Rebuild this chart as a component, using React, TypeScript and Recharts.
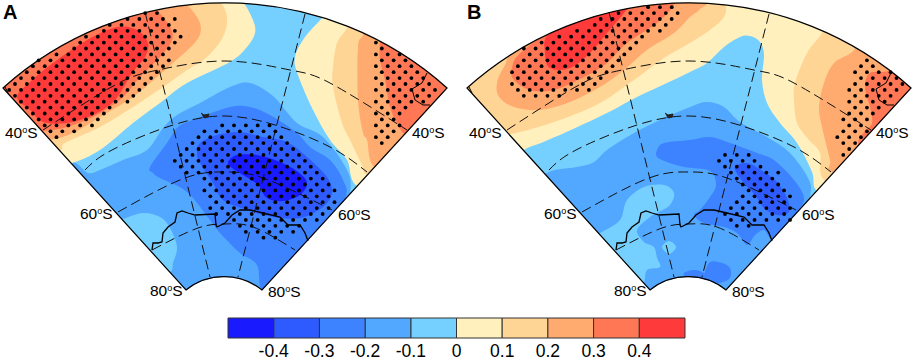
import { BarChart, Bar, XAxis, YAxis, ScatterChart, Scatter } from 'recharts';

type XY = [number, number];
type Row = [number, number, number];

// colour levels, coldest to warmest
const LEVEL_COLORS = ['#1a1aff', '#2d5bff', '#3d82ff', '#52a8ff', '#75d0ff', '#fff0bd', '#ffd595', '#ffab70', '#ff7755', '#ff3a3a'];
const SCALE_TICKS = [-0.4, -0.3, -0.2, -0.1, 0, 0.1, 0.2, 0.3, 0.4];
const SCALE_STEPS = [-0.1, -0.1, -0.1, -0.1, -0.1, 0.1, 0.1, 0.1, 0.1, 0.1];

// map outline corners, shared by both panels
const SECTOR: XY[] = [[3, 88], [447, 88], [262, 290], [186, 290]];
const OUTER_R = 332;
const INNER_R = 61;

const MERIDIANS: XY[][] = [
  [[145, 12], [210, 277]],
  [[305, 14], [238, 277]],
];
const PARALLELS: XY[][] = [
  [[43, 130], [115, 85], [158, 70], [225, 61], [290, 70], [330, 83], [407, 130]],
  [[85, 170], [112, 150], [173, 125], [225, 116], [275, 125], [330, 147], [367, 172]],
  [[118, 212], [185, 178], [225, 172], [263, 178], [332, 210]],
  [[152, 250], [198, 228], [225, 224], [253, 227], [295, 250]],
];
const COAST_SOUTH: XY[] = [[152, 250], [153, 243], [158, 243], [162, 242], [163, 233], [168, 227], [175, 222], [177, 213], [182, 211], [188, 213], [195, 215], [215, 214], [216, 225], [217, 227], [225, 223], [232, 215], [240, 210], [250, 210], [263, 213], [280, 217], [288, 225], [300, 225], [305, 233], [308, 241]];
const COAST_EAST: XY[] = [[427, 73], [422, 83], [412, 89], [415, 100], [423, 105], [430, 105]];
const COAST_WEST: XY[] = [[5, 87], [8, 93]];
const ISLAND: XY[] = [[201, 113], [204, 115], [209, 114], [208, 117], [205, 118], [203, 117]];

// panel A contours
const A_WARM0: XY[] = [[72, 163], [100, 150], [133, 123], [160, 103], [187, 83], [230, 62], [247, 47], [255, 33], [253, 20], [243, 2], [235, 0], [120, 0], [0, 0], [0, 110], [40, 170]];
const A_WARM1: XY[] = [[60, 150], [65, 143], [100, 127], [133, 107], [163, 87], [187, 70], [207, 57], [223, 37], [227, 17], [220, 2], [210, 0], [100, 0], [0, 0], [0, 100], [30, 150]];
const A_WARM2: XY[] = [[50, 140], [75, 132], [100, 117], [133, 97], [157, 77], [173, 63], [197, 40], [200, 23], [187, 5], [175, 0], [80, 0], [0, 0], [0, 90], [20, 140]];
const A_WARM3: XY[] = [[43, 131], [67, 127], [97, 115], [123, 97], [140, 77], [160, 57], [172, 40], [170, 27], [157, 10], [145, 0], [70, 0], [0, 0], [0, 85], [15, 130]];
const A_WARM4: XY[] = [[117, 27], [137, 30], [148, 43], [145, 57], [132, 73], [115, 100], [93, 115], [67, 123], [43, 122], [30, 110], [17, 97], [30, 82], [53, 63], [87, 40]];
const A_EAST0: XY[] = [[357, 186], [347, 160], [330, 140], [313, 110], [298, 75], [295, 57], [305, 37], [322, 18], [335, 0], [450, 0], [450, 100], [450, 190], [400, 200]];
const A_EAST1: XY[] = [[368, 175], [363, 167], [350, 140], [342, 123], [333, 87], [333, 67], [337, 43], [347, 28], [355, 10], [450, 20], [450, 180], [410, 190]];
const A_EAST2: XY[] = [[375, 168], [367, 140], [363, 133], [358, 100], [358, 47], [363, 35], [370, 15], [450, 30], [450, 175], [415, 185]];
const A_EAST3: XY[] = [[405, 135], [397, 123], [390, 107], [385, 80], [380, 60], [380, 43], [385, 25], [450, 50], [450, 140], [425, 150]];
const A_COLD1: XY[] = [[73, 163], [88, 173], [100, 170], [123, 160], [147, 150], [163, 128], [177, 115], [200, 103], [230, 87], [250, 83], [273, 96], [297, 123], [323, 137], [347, 170], [350, 194], [340, 240], [290, 320], [225, 345], [160, 320], [100, 240], [60, 185]];
const A_COAST_PATCH: XY[] = [[123, 219], [143, 213], [160, 217], [170, 228], [177, 247], [173, 263], [170, 272], [150, 275], [120, 250], [105, 225]];
const A_COLD2: XY[] = [[345, 199], [343, 180], [330, 160], [310, 147], [297, 133], [270, 115], [250, 107], [230, 107], [193, 120], [178, 127], [167, 143], [150, 167], [153, 173], [160, 178], [187, 192], [210, 220], [220, 233], [240, 253], [257, 265], [262, 290], [285, 290], [320, 250]];
const A_COLD3: XY[] = [[197, 153], [200, 143], [217, 135], [240, 132], [263, 137], [287, 142], [307, 157], [327, 177], [332, 193], [323, 207], [300, 218], [273, 217], [247, 210], [223, 200], [213, 183], [200, 163]];
const A_COLD4: XY[] = [[228, 162], [237, 155], [257, 155], [280, 162], [298, 172], [307, 183], [300, 195], [283, 201], [267, 198], [258, 185], [243, 175], [232, 168]];

// panel B contours
const B_WARM0: XY[] = [[60, 150], [77, 143], [107, 130], [143, 113], [173, 97], [203, 83], [226, 72], [243, 63], [260, 47], [276, 37], [286, 36], [296, 42], [300, 55], [298, 80], [303, 103], [316, 123], [333, 143], [348, 172], [352, 190], [375, 205], [450, 190], [450, 0], [225, 0], [0, 0], [0, 110], [35, 170]];
const B_WARM1: XY[] = [[46, 134], [96, 120], [136, 103], [170, 80], [200, 58], [226, 43], [246, 30], [260, 17], [261, 5], [250, 0], [100, 0], [0, 0], [0, 100], [20, 130]];
const B_WARM2: XY[] = [[76, 110], [106, 102], [136, 87], [160, 70], [183, 50], [210, 33], [226, 17], [235, 10], [238, 0], [150, 0], [60, 40], [40, 67], [33, 83], [35, 97], [50, 107]];
const B_WARM3: XY[] = [[66, 90], [90, 90], [120, 77], [143, 63], [163, 43], [193, 23], [210, 5], [205, 0], [120, 10], [60, 50], [48, 68], [50, 80]];
const B_WARM4: XY[] = [[86, 68], [106, 68], [126, 53], [143, 33], [160, 13], [163, 5], [125, 10], [85, 33], [81, 53]];
const B_EAST1: XY[] = [[360, 180], [356, 153], [345, 140], [333, 123], [330, 100], [331, 83], [343, 53], [358, 33], [365, 15], [450, 40], [450, 190], [400, 200]];
const B_EAST2: XY[] = [[368, 172], [366, 160], [358, 127], [355, 107], [360, 83], [370, 63], [390, 50], [400, 25], [450, 50], [450, 175], [410, 185]];
const B_EAST3: XY[] = [[395, 146], [400, 132], [408, 123], [406, 107], [401, 87], [406, 73], [426, 70], [435, 50], [450, 70], [450, 140], [420, 160]];
const B_COLD1: XY[] = [[85, 172], [113, 167], [130, 162], [143, 150], [170, 133], [196, 120], [226, 107], [243, 102], [260, 107], [276, 122], [303, 137], [326, 153], [345, 180], [346, 198], [340, 240], [290, 320], [225, 345], [160, 320], [100, 240], [65, 190]];
const B_PATCH1: XY[] = [[138, 232], [156, 220], [163, 200], [180, 187], [200, 185], [210, 193], [206, 205], [193, 213], [186, 217], [173, 230], [180, 242], [190, 247], [193, 258], [196, 267], [183, 270], [180, 282], [173, 278], [150, 270], [125, 240]];
const B_PATCH2: XY[] = [[198, 247], [205, 241], [212, 247], [205, 254]];
const B_HOLE1: XY[] = [[184, 225], [188, 222], [192, 225], [188, 228]];
const B_HOLE2: XY[] = [[186, 237], [190, 234], [194, 240], [190, 245]];
const B_COLD2: XY[] = [[193, 157], [203, 162], [220, 167], [246, 171], [252, 185], [246, 197], [236, 210], [230, 215], [240, 223], [260, 227], [273, 233], [283, 245], [291, 235], [300, 230], [310, 238], [333, 212], [340, 198], [330, 180], [310, 160], [293, 153], [266, 143], [246, 137], [226, 140], [200, 143], [193, 150]];
const B_COLD3: XY[] = [[271, 168], [283, 163], [300, 172], [313, 182], [323, 198], [325, 212], [313, 215], [300, 208], [291, 195], [280, 183]];
const B_FOOT1: XY[] = [[240, 275], [246, 262], [258, 263], [266, 268], [266, 278], [256, 283], [240, 285]];
const B_FOOT2: XY[] = [[220, 273], [230, 270], [240, 273], [240, 278], [223, 277]];

// stippling: y, first x, last x along a row
const A_DOTS: Row[] = [
  [13.1, 145.2, 157], [19, 127.5, 174.8], [24.9, 109.7, 168.9], [30.8, 103.9, 174.8], [36.7, 86, 180.7], [42.6, 80.2, 174.8],
  [48.5, 74.2, 168.9], [54.4, 56.5, 163], [60.3, 38.7, 168.9], [66.2, 32.9, 163], [72.2, 26.8, 157], [78.1, 21, 151.2],
  [84, 15, 145.2], [89.9, 9.2, 139.3], [95.8, 15, 133.3], [101.7, 21, 127.5], [107.6, 26.8, 109.7], [113.5, 32.9, 103.9],
  [119.4, 38.7, 97.8], [125.4, 44.7, 92], [131.3, 50.5, 74.2], [137.2, 56.5, 56.5],
  [42.6, 375.9, 375.9], [48.5, 381.8, 381.8], [54.4, 375.9, 399.6], [60.3, 381.8, 405.5], [66.2, 375.9, 411.4], [72.2, 381.8, 417.4],
  [78.1, 375.9, 423.3], [84, 381.8, 429.2], [89.9, 375.9, 435.1], [95.8, 381.8, 429.2], [101.7, 375.9, 423.3], [107.6, 381.8, 405.5],
  [113.5, 375.9, 399.6], [119.4, 381.8, 393.7], [125.4, 375.9, 399.6], [131.3, 381.8, 393.7], [137.2, 375.9, 387.8], [143.1, 381.8, 381.8],
  [125.4, 222.2, 269.5], [131.3, 204.4, 275.4], [137.2, 198.5, 281.3], [143.1, 192.5, 287.2], [149, 186.7, 293.1], [154.9, 180.7, 299],
  [160.8, 174.8, 305], [166.7, 180.7, 310.9], [172.6, 186.7, 316.8], [178.6, 204.4, 322.7], [184.5, 210.3, 328.6], [190.4, 204.4, 334.5],
  [196.3, 210.3, 328.6], [202.2, 216.2, 334.5], [208.1, 210.3, 328.6], [214, 216.2, 322.7], [219.9, 234, 316.8], [225.8, 239.9, 299],
  [231.8, 245.8, 293.1], [237.7, 263.5, 275.4],
];
const B_DOTS: Row[] = [
  [7.2, 184.1, 207.7], [13.1, 154.5, 213.7], [19, 136.7, 207.7], [24.9, 130.8, 201.8], [30.8, 113.1, 195.9], [36.7, 95.3, 178.2],
  [42.6, 77.6, 172.2], [48.5, 59.8, 166.3], [54.4, 65.7, 160.4], [60.3, 59.8, 154.5], [66.2, 53.9, 148.6], [72.2, 48, 142.7],
  [78.1, 53.9, 136.7], [84, 48, 130.8], [89.9, 53.9, 124.9], [95.8, 59.8, 95.3],
  [60.3, 402.9, 402.9], [66.2, 397, 408.8], [72.2, 391.1, 426.6], [78.1, 397, 432.5], [84, 391.1, 438.4], [89.9, 385.2, 432.5],
  [95.8, 391.1, 426.6], [101.7, 385.2, 420.7], [107.6, 391.1, 414.8], [113.5, 385.2, 408.8], [119.4, 379.3, 402.9], [125.4, 385.2, 397],
  [131.3, 379.3, 402.9], [137.2, 373.3, 397], [143.1, 379.3, 391.1], [149, 385.2, 385.2], [154.9, 379.3, 379.3],
  [154.9, 261, 284.6], [160.8, 255, 290.5], [166.7, 261, 296.5], [172.6, 266.9, 314.2], [178.6, 272.8, 308.3], [184.5, 278.7, 314.2],
  [190.4, 284.6, 320.1], [196.3, 278.7, 326], [202.2, 272.8, 320.1], [208.1, 266.9, 326], [214, 261, 320.1], [219.9, 266.9, 326], [225.8, 272.8, 284.6],
];
const DOT_STEP = 11.83;

const SIDE_LABELS = [
  { x: 5, y: 138, deg: '40' },
  { x: 412, y: 138, deg: '40' },
  { x: 80, y: 219, deg: '60' },
  { x: 338, y: 220, deg: '60' },
  { x: 150, y: 296, deg: '80' },
  { x: 268, y: 297, deg: '80' },
];

const BANDS_A: [XY[], string][] = [
  [A_WARM0, LEVEL_COLORS[5]], [A_WARM1, LEVEL_COLORS[6]], [A_WARM2, LEVEL_COLORS[7]], [A_WARM3, LEVEL_COLORS[8]], [A_WARM4, LEVEL_COLORS[9]],
  [A_EAST0, LEVEL_COLORS[5]], [A_EAST1, LEVEL_COLORS[6]], [A_EAST2, LEVEL_COLORS[7]], [A_EAST3, LEVEL_COLORS[8]],
  [A_COLD1, LEVEL_COLORS[3]], [A_COAST_PATCH, LEVEL_COLORS[4]], [A_COLD2, LEVEL_COLORS[2]], [A_COLD3, LEVEL_COLORS[1]], [A_COLD4, LEVEL_COLORS[0]],
];
const BANDS_B: [XY[], string][] = [
  [B_WARM0, LEVEL_COLORS[5]], [B_WARM1, LEVEL_COLORS[6]], [B_WARM2, LEVEL_COLORS[7]], [B_WARM3, LEVEL_COLORS[8]], [B_WARM4, LEVEL_COLORS[9]],
  [B_EAST1, LEVEL_COLORS[6]], [B_EAST2, LEVEL_COLORS[7]], [B_EAST3, LEVEL_COLORS[8]],
  [B_COLD1, LEVEL_COLORS[3]], [B_PATCH1, LEVEL_COLORS[4]], [B_PATCH2, LEVEL_COLORS[4]], [B_HOLE1, LEVEL_COLORS[3]], [B_HOLE2, LEVEL_COLORS[3]],
  [B_COLD2, LEVEL_COLORS[2]], [B_COLD3, LEVEL_COLORS[1]], [B_FOOT1, LEVEL_COLORS[2]], [B_FOOT2, LEVEL_COLORS[2]],
];

const FONT = '"Liberation Sans", Arial, sans-serif';
const DASH = { stroke: '#111', strokeWidth: 1, strokeDasharray: '10 5' };
const noDot = () => <g />;

function toPoints(list: XY[]) {
  return list.map(([x, y]) => ({ x, y }));
}

function expandRows(rows: Row[]) {
  const pts: { x: number; y: number }[] = [];
  for (const [y, first, last] of rows) {
    for (let x = first; x <= last + 0.5; x += DOT_STEP) pts.push({ x, y });
  }
  return pts;
}

// closed catmull-rom through the contour points
function closedSpline(p: { x: number; y: number }[]) {
  const n = p.length;
  let d = `M${p[0].x},${p[0].y}`;
  for (let i = 0; i < n; i++) {
    const a = p[(i + n - 1) % n];
    const b = p[i];
    const c = p[(i + 1) % n];
    const e = p[(i + 2) % n];
    d += `C${b.x + (c.x - a.x) / 6},${b.y + (c.y - a.y) / 6} ${c.x - (e.x - b.x) / 6},${c.y - (e.y - b.y) / 6} ${c.x},${c.y}`;
  }
  return d + 'Z';
}

function sectorPath(p: { x: number; y: number }[]) {
  const [a, b, c, d] = p;
  return `M${a.x},${a.y}A${OUTER_R},${OUTER_R} 0 0 1 ${b.x},${b.y}L${c.x},${c.y}A${INNER_R},${INNER_R} 0 0 0 ${d.x},${d.y}Z`;
}

function MapPanel({ id, left, letter, bands, dots }: { id: string; left: number; letter: string; bands: [XY[], string][]; dots: Row[] }) {
  return (
    <div style={{ position: 'absolute', left, top: 0 }}>
      <ScatterChart width={450} height={361} margin={{ top: 0, right: 0, bottom: 0, left: 0 }}>
        <XAxis type="number" dataKey="x" domain={[0, 450]} allowDataOverflow hide />
        <YAxis type="number" dataKey="y" domain={[0, 361]} allowDataOverflow reversed hide />
        <Scatter
          data={toPoints(SECTOR)}
          shape={noDot}
          isAnimationActive={false}
          line={(props: any) => (
            <g>
              <clipPath id={id}>
                <path d={sectorPath(props.points)} />
              </clipPath>
              <path d={sectorPath(props.points)} fill={LEVEL_COLORS[4]} />
            </g>
          )}
        />
        {bands.map(([ring, color], i) => (
          <Scatter
            key={i}
            data={toPoints(ring)}
            shape={noDot}
            isAnimationActive={false}
            line={(props: any) => <path d={closedSpline(props.points)} fill={color} clipPath={`url(#${id})`} />}
          />
        ))}
        {MERIDIANS.map((m, i) => (
          <Scatter key={i} data={toPoints(m)} shape={noDot} isAnimationActive={false} line={DASH} />
        ))}
        {PARALLELS.map((m, i) => (
          <Scatter key={i} data={toPoints(m)} shape={noDot} isAnimationActive={false} line={DASH} lineJointType="natural" />
        ))}
        <Scatter data={toPoints(COAST_SOUTH)} shape={noDot} isAnimationActive={false} line={{ stroke: '#000', strokeWidth: 1.3 }} />
        <Scatter data={toPoints(COAST_EAST)} shape={noDot} isAnimationActive={false} line={{ stroke: '#000', strokeWidth: 1 }} />
        <Scatter data={toPoints(COAST_WEST)} shape={noDot} isAnimationActive={false} line={{ stroke: '#000', strokeWidth: 1 }} />
        <Scatter data={toPoints(ISLAND)} shape={noDot} isAnimationActive={false} line={{ stroke: '#222', fill: '#222', strokeWidth: 1 }} />
        <Scatter
          data={expandRows(dots)}
          isAnimationActive={false}
          shape={(p: any) => <circle cx={p.cx} cy={p.cy} r={1.9} fill="#000" />}
        />
        <Scatter
          data={toPoints(SECTOR)}
          shape={noDot}
          isAnimationActive={false}
          line={(props: any) => <path d={sectorPath(props.points)} fill="none" stroke="#000" strokeWidth={1.2} />}
        />
        <Scatter
          data={SIDE_LABELS}
          isAnimationActive={false}
          shape={(p: any) => (
            <text x={p.cx} y={p.cy} fontFamily={FONT} fontSize={15.5} fill="#000">
              {p.payload.deg}
              <tspan dy={-5} fontSize={9}>o</tspan>
              <tspan dy={5}>S</tspan>
            </text>
          )}
        />
        <Scatter
          data={[{ x: 3, y: 19, letter }]}
          isAnimationActive={false}
          shape={(p: any) => (
            <text x={p.cx} y={p.cy} fontFamily={FONT} fontSize={20} fontWeight="bold" fill="#000">
              {p.payload.letter}
            </text>
          )}
        />
      </ScatterChart>
    </div>
  );
}

function ColorScale() {
  const row: Record<string, number | string> = { name: 'scale' };
  SCALE_STEPS.forEach((v, i) => {
    row[`s${i}`] = v;
  });
  // negatives stack outward from zero, so the coldest colour comes last
  const fills = [...LEVEL_COLORS.slice(0, 5).reverse(), ...LEVEL_COLORS.slice(5)];
  return (
    <div style={{ position: 'absolute', left: 0, top: 310 }}>
      <BarChart
        width={913}
        height={51}
        data={[row]}
        layout="vertical"
        stackOffset="sign"
        barCategoryGap={0}
        margin={{ top: 8, right: 228, bottom: 0, left: 228 }}
      >
        <XAxis
          type="number"
          domain={[-0.5, 0.5]}
          ticks={SCALE_TICKS}
          height={23}
          axisLine={false}
          tickLine={false}
          interval={0}
          tickMargin={1}
          tick={{ fill: '#000', fontSize: 17.5, fontFamily: FONT }}
          tickFormatter={(v: number) => (v === 0 ? '0' : v.toFixed(1))}
        />
        <YAxis type="category" dataKey="name" hide />
        {SCALE_STEPS.map((_, i) => (
          <Bar key={i} dataKey={`s${i}`} stackId="scale" fill={fills[i]} stroke="#333" strokeWidth={1} isAnimationActive={false} />
        ))}
      </BarChart>
    </div>
  );
}

export default function App() {
  return (
    <div style={{ position: 'absolute', left: 0, top: 0, width: 913, height: 361, background: '#fff', overflow: 'hidden' }}>
      <MapPanel id="clip-a" left={0} letter="A" bands={BANDS_A} dots={A_DOTS} />
      <MapPanel id="clip-b" left={463.5} letter="B" bands={BANDS_B} dots={B_DOTS} />
      <ColorScale />
    </div>
  );
}
